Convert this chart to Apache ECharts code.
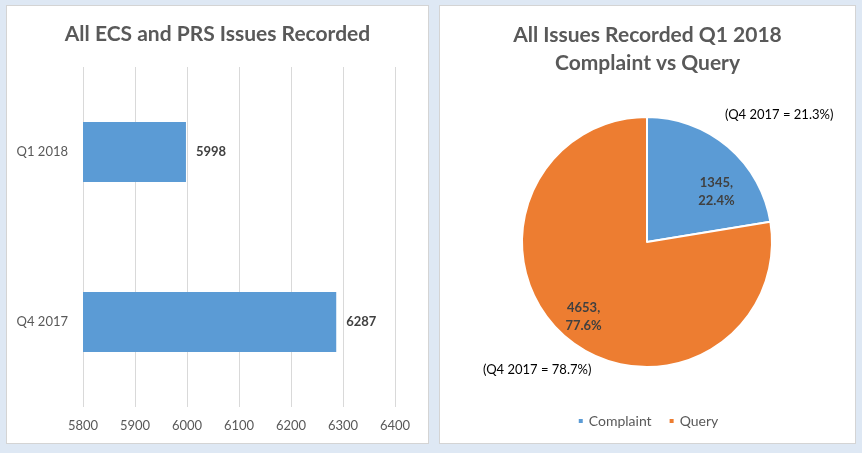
<!DOCTYPE html>
<html>
<head>
<meta charset="utf-8">
<script src="https://cdn.jsdelivr.net/npm/echarts@6/dist/echarts.min.js"></script>
<style>
  html, body { margin: 0; padding: 0; background: #dee8f4; width: 862px; height: 453px; overflow: hidden; }
  .panel { position: absolute; background: #fff; border: 1px solid #d4d4d4; box-sizing: border-box; }
  #left { left: 6px; top: 5px; width: 423px; height: 439px; }
  #right { left: 439px; top: 5px; width: 417px; height: 439px; }
</style>
</head>
<body>
<div id="left" class="panel"></div>
<div id="right" class="panel"></div>
<script>
// ---- data ----
const barTitle = 'All ECS and PRS Issues Recorded';
const barCategories = ['Q4 2017', 'Q1 2018'];
const barValues = [6287, 5998];
const axisMin = 5800, axisMax = 6400, axisStep = 100;

const pieTitle = 'All Issues Recorded Q1 2018\nComplaint vs Query';
const pieNames = ['Complaint', 'Query'];
const pieValues = [1345, 4653];
const pieNotes = ['(Q4 2017 = 21.3%)', '(Q4 2017 = 78.7%)'];

const FONT = 'Lato, "Open Sans", sans-serif';
const BLUE = '#5b9bd5', ORANGE = '#ed7d31';

const left = echarts.init(document.getElementById('left'), null, {renderer: 'canvas'});
left.setOption({
  animation: false,
  textStyle: { fontFamily: FONT },
  title: {
    text: barTitle, left: 'center', top: 13,
    textStyle: { fontFamily: FONT, fontSize: 21, fontWeight: 'bold', color: '#595959' }
  },
  grid: { left: 76, right: 33, top: 61, bottom: 36 },
  xAxis: {
    type: 'value', min: axisMin, max: axisMax, interval: axisStep,
    axisLine: { show: false }, axisTick: { show: false },
    splitLine: { lineStyle: { color: '#d9d9d9', width: 1 } },
    axisLabel: { color: '#595959', fontSize: 13, margin: 12, fontFamily: FONT, formatter: v => String(v) }
  },
  yAxis: {
    type: 'category', data: barCategories,
    axisLine: { show: false }, axisTick: { show: false },
    axisLabel: { color: '#595959', fontSize: 13, margin: 15, fontFamily: FONT }
  },
  series: [{
    type: 'bar', data: barValues, barWidth: 60,
    itemStyle: { color: BLUE },
    label: { show: true, position: 'right', distance: 10, fontWeight: 'bold', fontSize: 13, color: '#404040', fontFamily: FONT }
  }]
});

const labelShift = [[27, 0], [-21, 25]];
const right = echarts.init(document.getElementById('right'), null, {renderer: 'canvas'});
right.setOption({
  animation: false,
  textStyle: { fontFamily: FONT },
  title: [
    { text: pieTitle, left: 'center', top: 10,
      textStyle: { fontFamily: FONT, fontSize: 21, fontWeight: 'bold', color: '#595959', lineHeight: 28 } },
    { text: pieNotes[0], left: 280, top: 97,
      textStyle: { fontFamily: FONT, fontSize: 13, fontWeight: 'normal', color: '#000' } },
    { text: pieNotes[1], left: 38, top: 352,
      textStyle: { fontFamily: FONT, fontSize: 13, fontWeight: 'normal', color: '#000' } }
  ],
  legend: {
    bottom: 10, left: 'center', icon: 'rect', itemWidth: 6, itemHeight: 6, itemGap: 16,
    textStyle: { color: '#595959', fontSize: 14, fontFamily: FONT },
    data: pieNames
  },
  series: [{
    type: 'pie', center: [207, 236], radius: 125, startAngle: 90, clockwise: true,
    percentPrecision: 1,
    itemStyle: { borderColor: '#fff', borderWidth: 2 },
    label: { show: true, position: 'inside', formatter: '{c},\n{d}%', fontWeight: 'bold', fontSize: 13, color: '#404040', lineHeight: 18, fontFamily: FONT },
    labelLine: { show: false },
    labelLayout: function (p) { return { dx: labelShift[p.dataIndex][0], dy: labelShift[p.dataIndex][1] }; },
    data: pieNames.map((n, i) => ({ name: n, value: pieValues[i], itemStyle: { color: [BLUE, ORANGE][i] } }))
  }]
});
</script>
</body>
</html>
